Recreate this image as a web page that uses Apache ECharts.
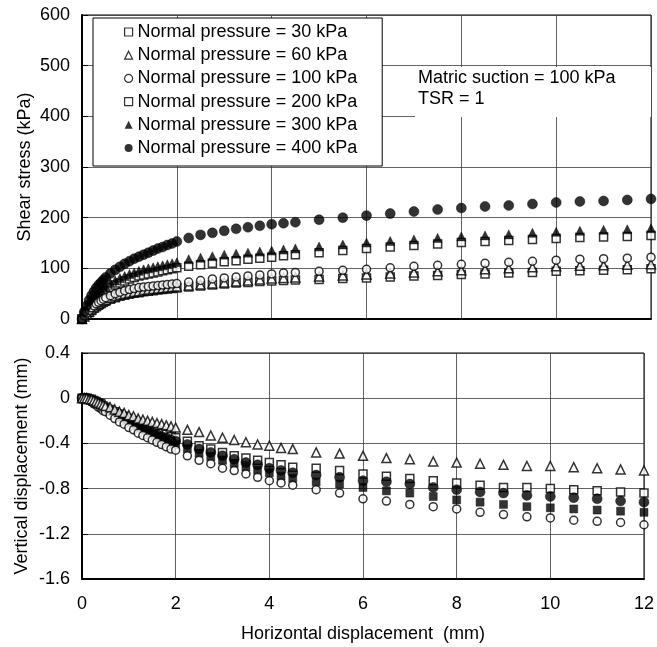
<!DOCTYPE html>
<html>
<head>
<meta charset="utf-8">
<script src="https://cdn.jsdelivr.net/npm/echarts@6/dist/echarts.min.js"></script>
<style>html,body{margin:0;padding:0;background:#fff}#c{width:657px;height:647px}</style>
</head>
<body>
<div id="c"></div>
<script>
// Horizontal displacement (mm), shared by all series
const xDisp = [0,0.05,0.1,0.15,0.2,0.25,0.3,0.35,0.4,0.45,0.5,
  0.6,0.7,0.8,0.9,1.0,1.1,1.2,1.3,1.4,1.5,1.6,1.7,1.8,1.9,2.0,
  2.25,2.5,2.75,3.0,3.25,3.5,3.75,4.0,4.25,4.5,
  5.0,5.5,6.0,6.5,7.0,7.5,8.0,8.5,9.0,9.5,10.0,10.5,11.0,11.5,12.0];

// Shear stress (kPa)
const shear30  = [0,5,9,13,17,21,24,27,30,33,35, 39,42,45,47,49,51,52,54,55,56,57,58,59,60,61, 63,65,67,69,71,72,74,75,76,77, 78,80,81,83,85,86,88,89,91,92,94,95,96,97,99];
const shear60  = [0,5,10,15,19,23,27,30,33,36,38, 42,45,48,50,52,54,55,57,58,59,60,61,62,63,64, 66,68,70,72,74,76,78,80,81,82, 84,86,88,90,92,94,96,98,100,102,104,105,106,107,108];
const shear100 = [0,6,12,17,22,26,30,33,36,39,42, 46,50,53,56,58,60,62,63,64,65,66,67,68,69,70, 73,76,79,81,83,85,87,89,91,92, 94,96,98,101,104,106,108,110,112,114,116,118,119,120,122];
const shear200 = [0,8,15,22,29,35,40,45,49,53,56, 62,67,71,75,79,82,85,87,89,91,93,95,97,99,101, 104,107,110,113,115,118,120,122,125,127, 131,135,139,142,145,148,151,153,155,157,159,161,162,163,165];
const shear300 = [0,9,18,26,34,41,47,52,57,61,65, 71,76,81,85,89,92,95,98,100,102,104,106,108,110,112, 118,121,124,127,129,131,133,135,137,139, 143,147,151,154,157,160,163,165,167,170,172,174,176,177,179];
const shear400 = [0,14,26,37,46,54,61,67,72,77,82, 90,97,103,109,114,119,123,127,131,135,139,142,146,149,153, 160,166,170,174,178,181,184,187,189,191, 196,200,204,208,212,216,219,222,224,227,230,232,233,235,237];

// Vertical displacement (mm)
const vert60  = [0,0,0,-0.01,-0.01,-0.02,-0.03,-0.04,-0.05,-0.06,-0.07, -0.08,-0.10,-0.12,-0.13,-0.15,-0.16,-0.18,-0.19,-0.20,-0.21,-0.22,-0.23,-0.24,-0.25,-0.26, -0.28,-0.30,-0.33,-0.35,-0.37,-0.39,-0.41,-0.42,-0.44,-0.45, -0.48,-0.49,-0.51,-0.53,-0.54,-0.56,-0.57,-0.58,-0.59,-0.60,-0.60,-0.61,-0.62,-0.63,-0.64];
const vert200 = [0,0,0,-0.01,-0.01,-0.02,-0.03,-0.04,-0.05,-0.07,-0.08, -0.10,-0.12,-0.14,-0.16,-0.18,-0.20,-0.22,-0.24,-0.26,-0.28,-0.29,-0.31,-0.32,-0.34,-0.35, -0.38,-0.42,-0.45,-0.48,-0.51,-0.53,-0.55,-0.57,-0.59,-0.61, -0.62,-0.64,-0.67,-0.69,-0.71,-0.73,-0.75,-0.77,-0.79,-0.79,-0.80,-0.81,-0.82,-0.83,-0.84];
const vert400 = [0,0,0,-0.01,-0.02,-0.03,-0.04,-0.05,-0.06,-0.08,-0.09, -0.11,-0.13,-0.15,-0.17,-0.20,-0.22,-0.24,-0.26,-0.28,-0.30,-0.32,-0.34,-0.35,-0.37,-0.38, -0.41,-0.45,-0.48,-0.51,-0.54,-0.57,-0.59,-0.62,-0.64,-0.66, -0.68,-0.70,-0.73,-0.74,-0.76,-0.79,-0.81,-0.83,-0.84,-0.86,-0.87,-0.88,-0.89,-0.91,-0.92];
const vert300 = [0,0,0,-0.01,-0.02,-0.03,-0.04,-0.05,-0.07,-0.08,-0.10, -0.12,-0.14,-0.17,-0.19,-0.21,-0.24,-0.26,-0.28,-0.30,-0.32,-0.34,-0.36,-0.38,-0.40,-0.41, -0.45,-0.49,-0.52,-0.55,-0.58,-0.61,-0.64,-0.66,-0.69,-0.71, -0.74,-0.76,-0.79,-0.82,-0.84,-0.87,-0.90,-0.92,-0.94,-0.96,-0.97,-0.98,-0.99,-1.00,-1.01];
const vert100 = [0,0,-0.01,-0.02,-0.03,-0.05,-0.06,-0.08,-0.09,-0.11,-0.12, -0.15,-0.18,-0.21,-0.23,-0.26,-0.28,-0.31,-0.33,-0.35,-0.37,-0.39,-0.41,-0.43,-0.45,-0.46, -0.51,-0.55,-0.58,-0.62,-0.64,-0.67,-0.70,-0.73,-0.75,-0.77, -0.81,-0.84,-0.89,-0.91,-0.94,-0.96,-0.98,-1.01,-1.03,-1.05,-1.06,-1.08,-1.09,-1.10,-1.12];

// Tick labels
const xTicks = [0,2,4,6,8,10,12];
const shearTicks = [0,100,200,300,400,500,600];
const vertTicks = [-1.6,-1.2,-0.8,-0.4,0,0.4];

const names = ['Normal pressure = 30 kPa','Normal pressure = 60 kPa','Normal pressure = 100 kPa',
  'Normal pressure = 200 kPa','Normal pressure = 300 kPa','Normal pressure = 400 kPa'];

const FONT = '"Liberation Sans", Arial, sans-serif';
const FS = 18;
const openStyle = {color:'#fff', borderColor:'#000', borderWidth:1.5};
const fillStyle = {color:'#000', borderColor:'#000', borderWidth:0.5};

function pairs(ys){ return xDisp.map((x,i)=>[x, ys[i]]); }
function mk(name, idx, ys, symbol, filled, size){
  return {name, type:'scatter', xAxisIndex:idx, yAxisIndex:idx, data:pairs(ys),
    symbol, symbolSize:size, itemStyle: filled ? fillStyle : openStyle,
    emphasis:{disabled:true}, silent:true};
}

const series = [
  mk(names[0],0,shear30,'rect',false,8),
  mk(names[1],0,shear60,'triangle',false,9),
  mk(names[3],0,shear200,'rect',false,8),
  mk(names[4],0,shear300,'triangle',true,9),
  mk(names[2],0,shear100,'circle',false,8),
  mk(names[5],0,shear400,'circle',true,10),
  mk(names[3],1,vert200,'rect',false,8),
  mk(names[4],1,vert300,'rect',true,8),
  mk(names[5],1,vert400,'circle',true,10),
  mk(names[2],1,vert100,'circle',false,8),
  mk(names[1],1,vert60,'triangle',false,9)
];

const legendIcons = ['rect','triangle','circle','rect','triangle','circle'];
const legendFilled = [false,false,false,false,true,true];

function fmtVert(v){ const r = Math.round(v*10)/10; return r === 0 ? '0' : r.toFixed(1); }

const axisLabel = {color:'#000', fontSize:FS, fontFamily:FONT};
const splitLine = {show:true, lineStyle:{color:'#3a3a3a', width:0.8}};
const nameStyle = {color:'#000', fontSize:FS, fontFamily:FONT};

const option = {
  animation:false,
  backgroundColor:'#fff',
  textStyle:{fontFamily:FONT, color:'#000'},
  grid:[
    {left:82, top:15, width:569, height:304, show:true, borderColor:'#000', borderWidth:1, backgroundColor:'transparent'},
    {left:82, top:353, width:569, height:226, show:true, borderColor:'#000', borderWidth:1, backgroundColor:'transparent'}
  ],
  xAxis:[
    {type:'value', gridIndex:0, min:xTicks[0], max:xTicks[xTicks.length-1], interval:xTicks[1]-xTicks[0],
      axisLabel:{show:false}, axisTick:{show:false},
      axisLine:{show:true, onZero:false, lineStyle:{color:'#000', width:2}}, splitLine},
    {type:'value', gridIndex:1, min:xTicks[0], max:xTicks[xTicks.length-1], interval:xTicks[1]-xTicks[0],
      axisLabel:Object.assign({margin:16}, axisLabel), axisTick:{show:false},
      axisLine:{show:true, onZero:false, lineStyle:{color:'#000', width:2}}, splitLine,
      name:'Horizontal displacement  (mm)', nameLocation:'middle', nameGap:46, nameTextStyle:nameStyle,
      nameMoveOverlap:false}
  ],
  yAxis:[
    {type:'value', gridIndex:0, min:shearTicks[0], max:shearTicks[shearTicks.length-1], interval:shearTicks[1]-shearTicks[0],
      axisLabel:Object.assign({margin:12}, axisLabel),
      axisTick:{show:true, inside:true, length:6, lineStyle:{color:'#000'}},
      axisLine:{show:true, onZero:false, lineStyle:{color:'#000', width:2}}, splitLine,
      name:'Shear stress (kPa)', nameLocation:'middle', nameGap:48, nameTextStyle:nameStyle,
      nameMoveOverlap:false},
    {type:'value', gridIndex:1, min:vertTicks[0], max:vertTicks[vertTicks.length-1], interval:0.4,
      axisLabel:Object.assign({margin:12, formatter:fmtVert}, axisLabel),
      axisTick:{show:true, inside:true, length:6, lineStyle:{color:'#000'}},
      axisLine:{show:true, onZero:false, lineStyle:{color:'#000', width:2}}, splitLine,
      name:'Vertical displacement (mm)', nameLocation:'middle', nameGap:51, nameTextStyle:nameStyle,
      nameMoveOverlap:false}
  ],
  legend:{
    orient:'vertical', left:93, top:18,
    padding:[5,25,9,31], itemGap:5.2, itemWidth:8, itemHeight:8,
    backgroundColor:'#fff', borderColor:'#000', borderWidth:1,
    selectedMode:false,
    textStyle:{color:'#000', fontSize:FS, fontFamily:FONT},
    data: names.map((n,i)=>({name:n, icon:legendIcons[i],
      itemStyle: legendFilled[i] ? {color:'#000', borderColor:'#000', borderWidth:0} : {color:'#fff', borderColor:'#000', borderWidth:1.2}}))
  },
  graphic:[
    {type:'rect', z:100, shape:{x:415, y:67, width:236, height:50}, style:{fill:'#fff'}},
    {type:'text', z:101, x:418, y:68, style:{text:'Matric suction = 100 kPa\nTSR = 1', font:FS+'px '+FONT, fill:'#000', lineHeight:21}}
  ],
  series
};

const chart = echarts.init(document.getElementById('c'), null, {renderer:'canvas'});
chart.setOption(option);
</script>
</body>
</html>
